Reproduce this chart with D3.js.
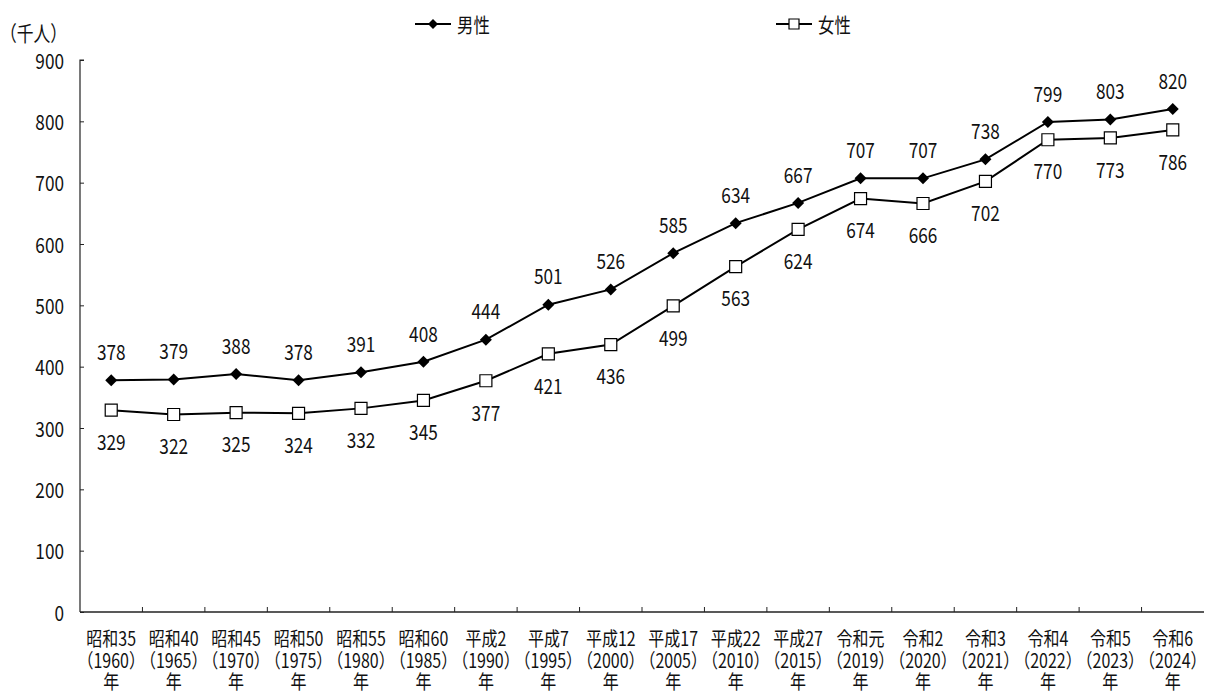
<!DOCTYPE html>
<html><head><meta charset="utf-8">
<script src="https://cdn.jsdelivr.net/npm/d3@7"></script>
<style>
body{margin:0;background:#fff;}
text{font-family:"Noto Sans CJK JP","Noto Sans",sans-serif;fill:#111;}
</style></head>
<body><svg id="chart" width="1205" height="691"></svg>
<script>
// 年次（元号・西暦）
const eraLabels = ["昭和35","昭和40","昭和45","昭和50","昭和55","昭和60","平成2","平成7","平成12","平成17","平成22","平成27","令和元","令和2","令和3","令和4","令和5","令和6"];
const years = ["1960","1965","1970","1975","1980","1985","1990","1995","2000","2005","2010","2015","2019","2020","2021","2022","2023","2024"];
// 人数（千人）
const male = [378,379,388,378,391,408,444,501,526,585,634,667,707,707,738,799,803,820];
const female = [329,322,325,324,332,345,377,421,436,499,563,624,674,666,702,770,773,786];
const yTicks = [0,100,200,300,400,500,600,700,800,900];

const svg = d3.select("#chart");
const plotL = 80, plotR = 1204, plotT = 60, plotB = 612;
const SX = 0.82; // narrow glyph width

const x = d3.scaleBand().domain(years).range([plotL, plotR]).padding(0);
const y = d3.scaleLinear().domain([0, 900]).range([plotB, plotT]);

function narrowText(sel, px, py, sx){
  return sel.attr("transform", `translate(${px},${py}) scale(${sx || SX},1)`);
}

// y axis
const yAxis = svg.append("g").attr("transform", `translate(${plotL},0)`)
  .call(d3.axisRight(y).tickValues(yTicks).tickSize(4).tickFormat(""));
yAxis.select(".domain").attr("stroke","#222").attr("stroke-width",1.2).attr("d",`M4,${plotT}H0V${plotB}`);
yAxis.selectAll(".tick line").attr("stroke","#222");
svg.append("g").selectAll("text").data(yTicks).join("text")
  .attr("text-anchor","end").attr("dominant-baseline","central").attr("font-size",21)
  .each(function(d){ narrowText(d3.select(this), 64, y(d)); })
  .text(d=>d);

// x axis
const xAxis = svg.append("g").attr("transform", `translate(0,${plotB})`)
  .call(d3.axisTop(x).tickSize(0).tickFormat(""));
xAxis.select(".domain").attr("stroke","#222").attr("stroke-width",1.4).attr("d",`M${plotL},0H${plotR}`);
svg.append("g").selectAll("line").data(years.slice(1)).join("line")
  .attr("x1",d=>x(d)).attr("x2",d=>x(d)).attr("y1",plotB).attr("y2",plotB-5)
  .attr("stroke","#222").attr("stroke-width",1);
const xl = svg.append("g").selectAll("g").data(years).join("g");
xl.each(function(d,i){
  const g = d3.select(this), cx = x(d) + x.bandwidth()/2;
  [[eraLabels[i],637],["（"+d+"）",659],["年",680]].forEach(([t,ty])=>{
    narrowText(g.append("text").attr("text-anchor","middle").attr("dominant-baseline","central").attr("font-size",19.5), cx, ty).text(t);
  });
});

// unit label
narrowText(svg.append("text").attr("font-size",21).attr("dominant-baseline","central"), 0, 32, 0.8).text("（千人）");

const cx = (d,i)=> x(years[i]) + x.bandwidth()/2;
const line = d3.line().x((d,i)=>cx(d,i)).y(d=>y(d));

function drawSeries(vals, kind, labelDy){
  svg.append("path").datum(vals).attr("d", line).attr("fill","none").attr("stroke","#000").attr("stroke-width",2);
  const m = svg.append("g").selectAll("path").data(vals).join("path")
    .attr("transform",(d,i)=>`translate(${cx(d,i)},${y(d)})`);
  if (kind==="diamond") m.attr("d","M0,-6L6,0L0,6L-6,0Z").attr("fill","#000");
  else m.attr("d","M-6,-6H6V6H-6Z").attr("fill","#fff").attr("stroke","#000").attr("stroke-width",1.2);
  svg.append("g").selectAll("text").data(vals).join("text")
    .attr("text-anchor","middle").attr("dominant-baseline","central").attr("font-size",21)
    .each(function(d,i){ narrowText(d3.select(this), cx(d,i), y(d)+labelDy); })
    .text(d=>d);
}
drawSeries(male, "diamond", -29);
drawSeries(female, "square", 31);

// legend
const lg = svg.append("g");
[["男性","diamond",415],["女性","square",776]].forEach(([name,kind,lx])=>{
  lg.append("line").attr("x1",lx).attr("x2",lx+36).attr("y1",24).attr("y2",24).attr("stroke","#000").attr("stroke-width",2);
  const mk = lg.append("path").attr("transform",`translate(${lx+18},24)`);
  if (kind==="diamond") mk.attr("d","M0,-5L5,0L0,5L-5,0Z").attr("fill","#000");
  else mk.attr("d","M-5,-5H5V5H-5Z").attr("fill","#fff").attr("stroke","#000").attr("stroke-width",1.2);
  narrowText(lg.append("text").attr("font-size",20).attr("dominant-baseline","central"), lx+42, 24).text(name);
});
</script></body></html>
